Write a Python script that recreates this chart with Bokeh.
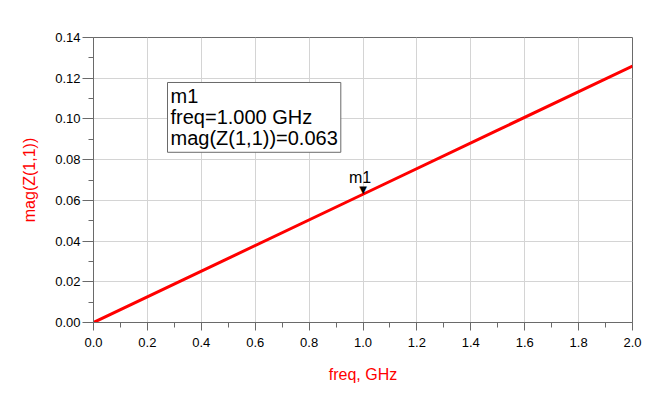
from bokeh.plotting import figure
from bokeh.models import Range1d, FixedTicker, PrintfTickFormatter, Label
from bokeh.core.properties import value
from bokeh.embed import file_html
from bokeh.resources import INLINE

# data
freq = [0.0, 0.5, 1.0, 1.5, 2.0]
mag_z11 = [0.0, 0.0315, 0.063, 0.0945, 0.126]
marker_freq = [1.0]
marker_mag = [0.063]
marker_name = ["m1"]
x_ticks = [0.0, 0.2, 0.4, 0.6, 0.8, 1.0, 1.2, 1.4, 1.6, 1.8, 2.0]
x_minor = [0.1, 0.3, 0.5, 0.7, 0.9, 1.1, 1.3, 1.5, 1.7, 1.9]
y_ticks = [0.0, 0.02, 0.04, 0.06, 0.08, 0.10, 0.12, 0.14]
y_minor = [0.01, 0.03, 0.05, 0.07, 0.09, 0.11, 0.13]

FONT = "Liberation Sans"

p = figure(width=660, height=390, output_backend="svg", toolbar_location=None,
           x_range=Range1d(0, 2.0), y_range=Range1d(0, 0.14),
           min_border_left=93, min_border_right=28, min_border_top=37, min_border_bottom=68)
p.background_fill_color = "white"
p.border_fill_color = "white"
p.outline_line_color = "#6a6a6a"
p.outline_line_width = 1

for ax, ticks, minor, fmt in ((p.xaxis[0], x_ticks, x_minor, "%.1f"), (p.yaxis[0], y_ticks, y_minor, "%.2f")):
    ax.ticker = FixedTicker(ticks=ticks, minor_ticks=minor)
    ax.formatter = PrintfTickFormatter(format=fmt)
    ax.axis_line_color = "#6a6a6a"
    ax.major_tick_line_color = "#6a6a6a"
    ax.minor_tick_line_color = "#6a6a6a"
    ax.major_tick_in = 0
    ax.minor_tick_in = 0
    ax.minor_tick_out = 5
    ax.major_label_text_font = FONT
    ax.major_label_text_font_size = "13px"
    ax.major_label_text_color = "black"
    ax.axis_label_text_font = FONT
    ax.axis_label_text_font_size = "16px"
    ax.axis_label_text_font_style = "normal"
    ax.axis_label_text_color = "#ff0000"

p.xaxis.major_tick_out = 8
p.xaxis.major_label_standoff = 7
p.xaxis.axis_label = "freq, GHz"
p.xaxis.axis_label_standoff = 16
p.yaxis.major_tick_out = 11
p.yaxis.major_label_standoff = 2
p.yaxis.axis_label = "mag(Z(1,1))"
p.yaxis.axis_label_standoff = 14

p.xgrid.ticker = FixedTicker(ticks=x_ticks)
p.ygrid.ticker = FixedTicker(ticks=y_ticks)
p.grid.grid_line_color = "#d4d4d4"
p.grid.grid_line_width = 1

p.line(freq, mag_z11, line_color="#ff0000", line_width=3)

# marker
p.text(marker_freq, marker_mag, text=["\u25bc"], text_align="center", text_baseline="bottom",
       text_font=value("DejaVu Sans"), text_font_size="10px", text_color="black", y_offset=1)
p.text(marker_freq, marker_mag, text=marker_name, text_align="center", text_baseline="bottom",
       text_font=value(FONT), text_font_size="16px", text_color="black", x_offset=-3, y_offset=-8)

box = Label(x=0.2746, y=0.1179, x_units="data", y_units="data", anchor="top_left",
            text="m1\nfreq=1.000 GHz\nmag(Z(1,1))=0.063",
            text_font=FONT, text_font_size="20px", text_color="black", text_line_height=0.95,
            padding=3, border_line_color="#6a6a6a", border_line_width=1,
            background_fill_color="white", background_fill_alpha=1.0)
p.add_layout(box)

open("out.html", "w").write(file_html(p, INLINE))
